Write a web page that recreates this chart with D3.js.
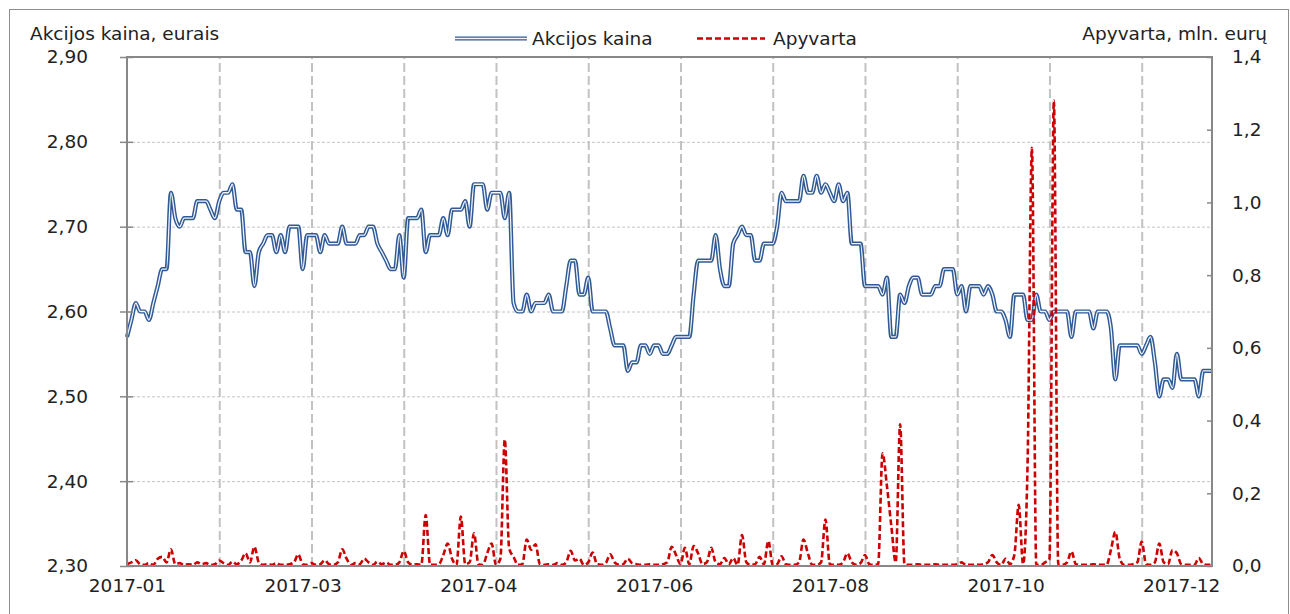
<!DOCTYPE html>
<html>
<head>
<meta charset="utf-8">
<script src="https://cdn.jsdelivr.net/npm/d3@7"></script>
<style>
  body { margin: 0; background: #fff; }
  text { font-family: "DejaVu Sans", Verdana, sans-serif; fill: #222; }
</style>
</head>
<body>
<svg id="chart"></svg>
<script>
// akcijos kaina (EUR), kiekviena prekybos diena
var priceEUR = [
  2.57,2.59,2.61,2.60,2.60,2.59,2.61,2.63,2.65,2.65,
  2.74,2.71,2.70,2.71,2.71,2.71,2.73,2.73,2.73,2.72,
  2.71,2.73,2.74,2.74,2.75,2.72,2.72,2.67,2.67,2.63,
  2.67,2.68,2.69,2.69,2.67,2.69,2.67,2.70,2.70,2.70,
  2.65,2.69,2.69,2.69,2.67,2.69,2.68,2.68,2.68,2.70,
  2.68,2.68,2.68,2.69,2.69,2.70,2.70,2.68,2.67,2.66,
  2.65,2.65,2.69,2.64,2.71,2.71,2.71,2.72,2.67,2.69,
  2.69,2.69,2.71,2.69,2.72,2.72,2.72,2.73,2.70,2.75,
  2.75,2.75,2.72,2.74,2.74,2.74,2.71,2.74,2.61,2.60,
  2.60,2.62,2.60,2.61,2.61,2.61,2.62,2.60,2.60,2.60,
  2.63,2.66,2.66,2.62,2.62,2.64,2.60,2.60,2.60,2.60,
  2.58,2.56,2.56,2.56,2.53,2.54,2.54,2.56,2.56,2.55,
  2.56,2.56,2.55,2.55,2.56,2.57,2.57,2.57,2.57,2.62,
  2.66,2.66,2.66,2.66,2.69,2.65,2.63,2.63,2.68,2.69,
  2.70,2.69,2.69,2.66,2.66,2.68,2.68,2.68,2.70,2.74,
  2.73,2.73,2.73,2.73,2.76,2.74,2.74,2.76,2.74,2.75,
  2.74,2.73,2.75,2.73,2.74,2.68,2.68,2.68,2.63,2.63,
  2.63,2.63,2.62,2.64,2.57,2.57,2.62,2.61,2.63,2.64,
  2.64,2.62,2.62,2.62,2.63,2.63,2.65,2.65,2.65,2.62,
  2.63,2.60,2.63,2.63,2.63,2.62,2.63,2.62,2.60,2.60,
  2.59,2.57,2.62,2.62,2.62,2.59,2.59,2.62,2.60,2.60,
  2.59,2.60,2.60,2.60,2.60,2.57,2.60,2.60,2.60,2.60,
  2.58,2.60,2.60,2.60,2.58,2.52,2.56,2.56,2.56,2.56,
  2.56,2.55,2.56,2.57,2.54,2.50,2.52,2.52,2.51,2.55,
  2.52,2.52,2.52,2.52,2.50,2.53,2.53,2.53
];

// apyvarta (mln. EUR)
var turnoverMEUR = [
  0.005,0.01,0.016,0.005,0.003,0.008,0.003,0.02,0.025,0.01,
  0.046,0.005,0.008,0.003,0.005,0.003,0.01,0.005,0.008,0.003,
  0.005,0.015,0.008,0.003,0.012,0.005,0.015,0.035,0.01,0.053,
  0.01,0.003,0.005,0.003,0.008,0.003,0.003,0.005,0.01,0.032,
  0.005,0.003,0.008,0.003,0.005,0.016,0.005,0.003,0.01,0.046,
  0.02,0.003,0.008,0.005,0.02,0.01,0.003,0.012,0.005,0.01,
  0.003,0.003,0.01,0.041,0.01,0.003,0.005,0.003,0.14,0.003,
  0.003,0.005,0.03,0.062,0.02,0.003,0.136,0.005,0.01,0.09,
  0.005,0.003,0.035,0.062,0.003,0.02,0.348,0.048,0.025,0.003,
  0.005,0.073,0.045,0.06,0.005,0.003,0.005,0.003,0.008,0.003,
  0.01,0.042,0.015,0.02,0.003,0.01,0.037,0.005,0.003,0.008,
  0.032,0.01,0.003,0.005,0.02,0.008,0.005,0.003,0.003,0.005,
  0.003,0.003,0.005,0.01,0.053,0.03,0.005,0.05,0.005,0.055,
  0.035,0.005,0.01,0.05,0.01,0.005,0.022,0.005,0.022,0.003,
  0.085,0.01,0.003,0.005,0.025,0.005,0.069,0.003,0.005,0.027,
  0.005,0.003,0.003,0.01,0.073,0.035,0.003,0.003,0.01,0.128,
  0.005,0.003,0.003,0.01,0.035,0.01,0.003,0.008,0.03,0.005,
  0.003,0.005,0.31,0.22,0.11,0.01,0.39,0.005,0.003,0.003,
  0.005,0.003,0.003,0.003,0.005,0.003,0.003,0.003,0.003,0.005,
  0.01,0.003,0.003,0.003,0.003,0.005,0.01,0.03,0.01,0.003,
  0.02,0.005,0.03,0.168,0.005,0.27,1.15,0.003,0.003,0.01,
  0.02,1.28,0.005,0.003,0.01,0.04,0.005,0.003,0.003,0.003,
  0.005,0.003,0.003,0.003,0.045,0.094,0.02,0.003,0.003,0.005,
  0.01,0.067,0.005,0.003,0.01,0.062,0.01,0.005,0.044,0.035,
  0.005,0.003,0.003,0.003,0.022,0.005,0.003,0.003
];

var xLabels = ["2017-01", "2017-03", "2017-04", "2017-06", "2017-08", "2017-10", "2017-12"];
var labelEvery = 40;   // kas kiek dienu rodomas uzrasas
var gridEvery = 21;    // vertikalios tinklelio linijos
var priceTicks = [2.3, 2.4, 2.5, 2.6, 2.7, 2.8, 2.9];
var turnoverTicks = [0, 0.2, 0.4, 0.6, 0.8, 1.0, 1.2, 1.4];

var W = 1290, H = 614;
var plotL = 127, plotR = 1212, plotT = 57, plotB = 566;
var fs = "18.5px";

var comma1 = function(d) { return d3.format(".1f")(d).replace(".", ","); };
var comma2 = function(d) { return d3.format(".2f")(d).replace(".", ","); };

var svg = d3.select("#chart").attr("width", W).attr("height", H);

// isorinis remelis
svg.append("rect")
  .attr("x", 9.5).attr("y", 9.5)
  .attr("width", 1279).attr("height", 640)
  .attr("fill", "none").attr("stroke", "#8c8c8c").attr("stroke-width", 1);

var n = priceEUR.length;
var x = d3.scaleLinear().domain([0, n - 1]).range([plotL, plotR]);
var yL = d3.scaleLinear().domain([2.3, 2.9]).range([plotB, plotT]);
var yR = d3.scaleLinear().domain([0, 1.4]).range([plotB, plotT]);

var gridIdx = d3.range(gridEvery, n, gridEvery);
var labelIdx = xLabels.map(function(d, i) { return i * labelEvery; });

// horizontalus tinklelis
svg.append("g")
  .attr("transform", "translate(" + plotL + ",0)")
  .call(d3.axisLeft(yL).tickValues(priceTicks.slice(1, -1)).tickSize(-(plotR - plotL)).tickFormat(""))
  .call(function(g) {
    g.select(".domain").remove();
    g.selectAll("line").attr("stroke", "#c4c4c4").attr("stroke-width", 1).attr("stroke-dasharray", "3,2");
  });

// vertikalus tinklelis
svg.append("g")
  .attr("transform", "translate(0," + plotB + ")")
  .call(d3.axisBottom(x).tickValues(gridIdx).tickSize(-(plotB - plotT)).tickFormat(""))
  .call(function(g) {
    g.select(".domain").remove();
    g.selectAll("line").attr("stroke", "#c2c2c2").attr("stroke-width", 2).attr("stroke-dasharray", "9,4");
  });

// kainos linija (dviguba)
var priceLine = d3.line()
  .x(function(d, i) { return x(i); })
  .y(function(d) { return yL(d); })
  .curve(d3.curveMonotoneX);

svg.append("path").datum(priceEUR)
  .attr("d", priceLine)
  .attr("fill", "none").attr("stroke", "#2f5a96").attr("stroke-width", 4.2)
  .attr("stroke-linejoin", "round");
svg.append("path").datum(priceEUR)
  .attr("d", priceLine)
  .attr("fill", "none").attr("stroke", "#f2f5fa").attr("stroke-width", 1.3)
  .attr("stroke-linejoin", "round");

// apyvartos linija
var turnLine = d3.line()
  .x(function(d, i) { return x(i); })
  .y(function(d) { return yR(d); })
  .curve(d3.curveMonotoneX);

svg.append("path").datum(turnoverMEUR)
  .attr("d", turnLine)
  .attr("fill", "none").attr("stroke", "#cc0000").attr("stroke-width", 2.6)
  .attr("stroke-dasharray", "6,3");

// braizymo srities remelis
svg.append("rect")
  .attr("x", plotL).attr("y", plotT)
  .attr("width", plotR - plotL).attr("height", plotB - plotT)
  .attr("fill", "none").attr("stroke", "#888").attr("stroke-width", 2);

// kaire asis
svg.append("g")
  .attr("transform", "translate(" + plotL + ",0)")
  .call(d3.axisLeft(yL).tickValues(priceTicks).tickSize(7).tickPadding(32).tickFormat(comma2))
  .call(function(g) {
    g.select(".domain").remove();
    g.selectAll("line").attr("x1", 6).attr("stroke", "#888").attr("stroke-width", 1.5);
    g.selectAll("text").style("font-size", fs);
  });

// desine asis
svg.append("g")
  .attr("transform", "translate(" + plotR + ",0)")
  .call(d3.axisRight(yR).tickValues(turnoverTicks).tickSize(-5).tickPadding(20).tickFormat(comma1))
  .call(function(g) {
    g.select(".domain").remove();
    g.selectAll("line").attr("stroke", "#888").attr("stroke-width", 1.5);
    g.selectAll("text").style("font-size", fs);
  });

// apatine asis
svg.append("g")
  .attr("transform", "translate(0," + plotB + ")")
  .call(d3.axisBottom(x).tickValues(labelIdx).tickSize(0).tickPadding(13)
    .tickFormat(function(d) { return xLabels[d / labelEvery]; }))
  .call(function(g) {
    g.select(".domain").remove();
    g.selectAll("text").style("font-size", fs);
  });

// asiu pavadinimai
svg.append("text").attr("x", 30).attr("y", 40).style("font-size", fs).text("Akcijos kaina, eurais");
svg.append("text").attr("x", 1267).attr("y", 40).attr("text-anchor", "end").style("font-size", fs).text("Apyvarta, mln. eurų");

// legenda
var ly = 38.5;
svg.append("line").attr("x1", 455).attr("x2", 527).attr("y1", ly).attr("y2", ly)
  .attr("stroke", "#2f5a96").attr("stroke-width", 4.2);
svg.append("line").attr("x1", 455).attr("x2", 527).attr("y1", ly).attr("y2", ly)
  .attr("stroke", "#f2f5fa").attr("stroke-width", 1.3);
svg.append("text").attr("x", 532).attr("y", ly).attr("dy", "0.35em").style("font-size", fs).text("Akcijos kaina");
svg.append("line").attr("x1", 697).attr("x2", 765).attr("y1", ly).attr("y2", ly)
  .attr("stroke", "#cc0000").attr("stroke-width", 2.6).attr("stroke-dasharray", "6,3");
svg.append("text").attr("x", 773).attr("y", ly).attr("dy", "0.35em").style("font-size", fs).text("Apyvarta");
</script>
</body>
</html>
